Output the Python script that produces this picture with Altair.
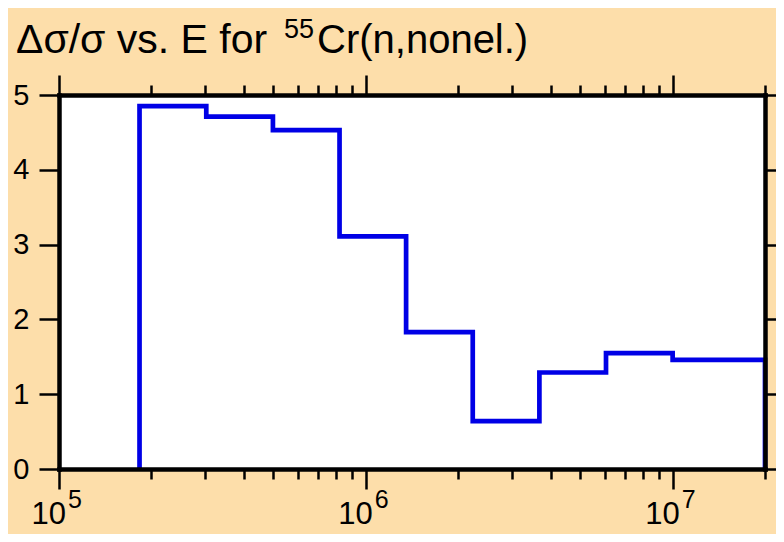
import altair as alt
import pandas as pd

# ---- data ----
edges = [1.83e5, 3.02e5, 4.98e5, 8.21e5, 1.353e6, 2.231e6, 3.679e6, 6.065e6, 1.0e7, 2.0e7]
values = [4.85, 4.71, 4.53, 3.11, 1.83, 0.64, 1.29, 1.55, 1.46]
decades = [1e5, 1e6, 1e7]
decade_base = ["10", "10", "10"]
decade_exp = ["5", "6", "7"]
x_ticks = [1e5, 2e5, 3e5, 4e5, 5e5, 6e5, 7e5, 8e5, 9e5,
           1e6, 2e6, 3e6, 4e6, 5e6, 6e6, 7e6, 8e6, 9e6,
           1e7, 2e7]
y_ticks = [0, 1, 2, 3, 4, 5]
title_main = "Δσ/σ vs. E for "
title_sup = "55"
title_rest = "Cr(n,nonel.)"

# ---- build the outline of the histogram ----
xs, ys = [edges[0]], [0.0]
for i, v in enumerate(values):
    xs += [edges[i], edges[i + 1]]
    ys += [v, v]
xs.append(edges[-1])
ys.append(0.0)
line_df = pd.DataFrame({"E": xs, "r": ys, "o": list(range(len(xs)))})
lab_df = pd.DataFrame({"E": decades, "base": decade_base, "exp": decade_exp})
one = pd.DataFrame({"a": [0]})

W, H = 706, 374
FONT = "Liberation Sans"
BG = "#FDDEAA"
BLUE = "#0000E6"

xscale = alt.Scale(type="log", domain=[1e5, 2e7], nice=False)
yscale = alt.Scale(domain=[0, 5], nice=False, zero=False)

major_test = "datum.value == 100000 || datum.value == 1000000 || datum.value == 10000000"
tsize = {"condition": {"test": major_test, "value": 20}, "value": 10}

common = dict(domainColor="black", domainWidth=4.5, domainCap="square",
              tickColor="black", tickWidth=2.5, grid=False, title=None, zindex=1)

x_bottom = alt.Axis(orient="bottom", values=x_ticks, labels=False, tickSize=tsize, **common)
x_top = alt.Axis(orient="top", values=x_ticks, labels=False, tickSize=tsize, **common)
y_left = alt.Axis(orient="left", values=y_ticks, tickSize=20, labelFont=FONT,
                  labelFontSize=29, labelColor="black", labelPadding=10, **common)
y_right = alt.Axis(orient="right", values=y_ticks, tickSize=20, labels=False, **common)

line = alt.Chart(line_df).mark_line(color=BLUE, strokeWidth=4.7, strokeJoin="miter").encode(
    x=alt.X("E:Q", scale=xscale, axis=x_bottom),
    y=alt.Y("r:Q", scale=yscale, axis=y_left),
    order="o:Q",
)

frame2 = alt.Chart(line_df).mark_line(strokeOpacity=0).encode(
    x=alt.X("E:Q", scale=xscale, axis=x_top),
    y=alt.Y("r:Q", scale=yscale, axis=y_right),
    order="o:Q",
)

lab_base = alt.Chart(lab_df).mark_text(
    font=FONT, fontSize=31, align="right", baseline="alphabetic", dx=7, color="black"
).encode(x=alt.X("E:Q", scale=xscale, axis=None), y=alt.value(H + 55), text="base:N")

lab_exp = alt.Chart(lab_df).mark_text(
    font=FONT, fontSize=25, align="left", baseline="alphabetic", dx=9, color="black"
).encode(x=alt.X("E:Q", scale=xscale, axis=None), y=alt.value(H + 39), text="exp:N")

t1 = alt.Chart(one).mark_text(font=FONT, fontSize=41, align="left", baseline="alphabetic",
                              color="black").encode(
    x=alt.value(-43), y=alt.value(-42), text=alt.value(title_main))
t2 = alt.Chart(one).mark_text(font=FONT, fontSize=27, align="left", baseline="alphabetic",
                              color="black").encode(
    x=alt.value(225), y=alt.value(-57), text=alt.value(title_sup))
t3 = alt.Chart(one).mark_text(font=FONT, fontSize=40, align="left", baseline="alphabetic",
                              color="black").encode(
    x=alt.value(258), y=alt.value(-42), text=alt.value(title_rest))

chart = alt.layer(line, frame2, lab_base, lab_exp, t1, t2, t3).resolve_axis(
    x="independent", y="independent"
).properties(
    width=W, height=H, background=BG,
    autosize=alt.AutoSizeParams(type="none"),
    padding={"left": 51, "top": 87, "right": 11, "bottom": 65},
).configure_view(fill="white", stroke=None)

chart.save("out.html", embed_options={"renderer": "svg", "actions": False})
